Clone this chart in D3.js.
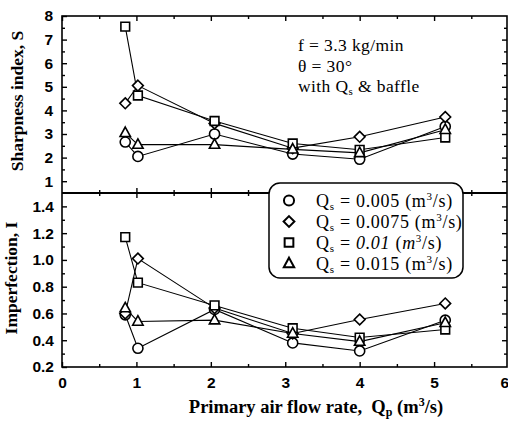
<!DOCTYPE html>
<html>
<head>
<meta charset="utf-8">
<script src="https://cdn.jsdelivr.net/npm/d3@7"></script>
<style>
  html, body { margin: 0; padding: 0; background: #fff; }
  svg { display: block; }
  .tick text { font-family: "Liberation Sans", Arial, sans-serif; font-weight: bold; font-size: 15.5px; fill: #000; }
  .serif { font-family: "Liberation Serif", "Times New Roman", serif; fill: #000; white-space: pre; }
</style>
</head>
<body>
<svg id="chart" width="508" height="422"></svg>
<script>
// Primary air flow rate (m^3/s) at which each case was measured
const flowRates = [0.85, 1.02, 2.05, 3.1, 4.0, 5.15];

// Secondary air flow rates, one series each
const seriesNames = ["0.005", "0.0075", "0.01", "0.015"];
const seriesSymbols = ["circle", "diamond", "square", "triangle"];

// Sharpness index, S
const sharpCircle   = [2.66, 2.05, 3.00, 2.15, 1.93, 3.32];
const sharpDiamond  = [4.30, 5.05, 3.45, 2.40, 2.88, 3.72];
const sharpSquare   = [7.55, 4.63, 3.55, 2.60, 2.33, 2.85];
const sharpTriangle = [3.05, 2.55, 2.55, 2.35, 2.20, 3.18];

// Imperfection, I
const impCircle   = [0.59, 0.34, 0.63, 0.38, 0.32, 0.55];
const impDiamond  = [0.60, 1.01, 0.64, 0.45, 0.555, 0.675];
const impSquare   = [1.17, 0.83, 0.66, 0.49, 0.42, 0.48];
const impTriangle = [0.64, 0.54, 0.55, 0.45, 0.39, 0.53];

// Axis ticks
const xTicks = [0, 1, 2, 3, 4, 5, 6];
const xMinor = [0.5, 1.5, 2.5, 3.5, 4.5, 5.5];
const sTicks = [1, 2, 3, 4, 5, 6, 7, 8];
const sMinor = [1.5, 2.5, 3.5, 4.5, 5.5, 6.5, 7.5];
const iTicks = [0.2, 0.4, 0.6, 0.8, 1.0, 1.2, 1.4];
const iMinor = [0.3, 0.5, 0.7, 0.9, 1.1, 1.3];

const sharpSeries = [sharpCircle, sharpDiamond, sharpSquare, sharpTriangle];
const impSeries = [impCircle, impDiamond, impSquare, impTriangle];

const svg = d3.select("#chart");

const frameL = 62, frameR = 507, frameT = 16, frameM = 193, frameB = 367;

const x = d3.scaleLinear().domain([0, 6]).range([frameL, 508.5]);
const yS = d3.scaleLinear().domain([0.5, 8]).range([frameM, frameT]);
const yI = d3.scaleLinear().domain([0.2, 1.5]).range([frameB, frameM]);

const plot = svg.append("g");

// Frame
plot.append("rect")
  .attr("x", frameL).attr("y", frameT)
  .attr("width", frameR - frameL).attr("height", frameB - frameT)
  .attr("fill", "none").attr("stroke", "#000").attr("stroke-width", 1.6);
plot.append("line")
  .attr("x1", frameL).attr("x2", frameR).attr("y1", frameM).attr("y2", frameM)
  .attr("stroke", "#000").attr("stroke-width", 2);

function styleAxis(g) {
  g.select(".domain").remove();
  g.selectAll(".tick line").attr("stroke", "#000").attr("stroke-width", 1.4);
}

// Bottom x axis with labels; the last label sits flush with the right edge
plot.append("g").attr("transform", `translate(0,${frameB})`)
  .call(d3.axisBottom(x).tickValues(xTicks).tickFormat(d3.format("d")).tickSize(-5).tickPadding(10))
  .call(styleAxis)
  .call(g => g.selectAll(".tick text").filter(d => d === 6)
    .attr("text-anchor", "end").attr("x", 0));
plot.append("g").attr("transform", `translate(0,${frameB})`)
  .call(d3.axisBottom(x).tickValues(xMinor).tickFormat("").tickSize(-3))
  .call(styleAxis);

// Top frame ticks
plot.append("g").attr("transform", `translate(0,${frameT})`)
  .call(d3.axisTop(x).tickValues(xTicks).tickFormat("").tickSize(-5))
  .call(styleAxis);
plot.append("g").attr("transform", `translate(0,${frameT})`)
  .call(d3.axisTop(x).tickValues(xMinor).tickFormat("").tickSize(-3))
  .call(styleAxis);

// Divider ticks, on both sides
[5, -5].forEach(s => {
  plot.append("g").attr("transform", `translate(0,${frameM})`)
    .call(d3.axisBottom(x).tickValues(xTicks.slice(1, 6)).tickFormat("").tickSize(s))
    .call(styleAxis);
  plot.append("g").attr("transform", `translate(0,${frameM})`)
    .call(d3.axisBottom(x).tickValues(xMinor).tickFormat("").tickSize(s * 0.6))
    .call(styleAxis);
});

// Left axes with labels
plot.append("g").attr("transform", `translate(${frameL},0)`)
  .call(d3.axisLeft(yS).tickValues(sTicks).tickFormat(d3.format("d")).tickSize(-5).tickPadding(9))
  .call(styleAxis);
plot.append("g").attr("transform", `translate(${frameL},0)`)
  .call(d3.axisLeft(yS).tickValues(sMinor).tickFormat("").tickSize(-3))
  .call(styleAxis);
plot.append("g").attr("transform", `translate(${frameL},0)`)
  .call(d3.axisLeft(yI).tickValues(iTicks).tickFormat(d3.format(".1f")).tickSize(-5).tickPadding(8))
  .call(styleAxis);
plot.append("g").attr("transform", `translate(${frameL},0)`)
  .call(d3.axisLeft(yI).tickValues(iMinor).tickFormat("").tickSize(-3))
  .call(styleAxis);

// Right frame ticks
plot.append("g").attr("transform", `translate(${frameR},0)`)
  .call(d3.axisRight(yS).tickValues(sTicks.slice(0, 7)).tickFormat("").tickSize(-5))
  .call(styleAxis);
plot.append("g").attr("transform", `translate(${frameR},0)`)
  .call(d3.axisRight(yS).tickValues(sMinor).tickFormat("").tickSize(-3))
  .call(styleAxis);
plot.append("g").attr("transform", `translate(${frameR},0)`)
  .call(d3.axisRight(yI).tickValues(iTicks.slice(1)).tickFormat("").tickSize(-5))
  .call(styleAxis);
plot.append("g").attr("transform", `translate(${frameR},0)`)
  .call(d3.axisRight(yI).tickValues(iMinor).tickFormat("").tickSize(-3))
  .call(styleAxis);

// Marker shapes
function symbolPath(name) {
  if (name === "diamond") return "M0,-5.4L5.4,0L0,5.4L-5.4,0Z";
  if (name === "triangle") return "M0,-5.8L5.2,3.7L-5.2,3.7Z";
  if (name === "square") return d3.symbol().type(d3.symbolSquare).size(76)();
  return d3.symbol().type(d3.symbolCircle).size(80)();
}

const line = y => d3.line().x((d, i) => x(flowRates[i])).y(d => y(d));

function drawPanel(seriesList, y) {
  const g = plot.append("g");
  seriesList.forEach(vals => {
    g.append("path").attr("d", line(y)(vals))
      .attr("fill", "none").attr("stroke", "#000").attr("stroke-width", 1.1);
  });
  seriesList.forEach((vals, k) => {
    g.selectAll(null).data(vals).enter().append("path")
      .attr("d", symbolPath(seriesSymbols[k]))
      .attr("transform", (d, i) => `translate(${x(flowRates[i])},${y(d)})`)
      .attr("fill", "#fff").attr("stroke", "#000").attr("stroke-width", 1.6);
  });
}
drawPanel(sharpSeries, yS);
drawPanel(impSeries, yI);

// Axis titles
svg.append("text").attr("class", "serif")
  .attr("transform", "translate(23,101) rotate(-90)")
  .attr("text-anchor", "middle").attr("font-weight", "bold").attr("font-size", 17.5)
  .text("Sharpness index, S");
svg.append("text").attr("class", "serif")
  .attr("transform", "translate(17,278) rotate(-90)")
  .attr("text-anchor", "middle").attr("font-weight", "bold").attr("font-size", 17.5)
  .text("Imperfection, I");

const xt = svg.append("text").attr("class", "serif")
  .attr("x", 316).attr("y", 413).attr("text-anchor", "middle")
  .attr("font-weight", "bold").attr("font-size", 18.5);
xt.append("tspan").text("Primary air flow rate,  Q");
xt.append("tspan").attr("font-size", 12).attr("dy", 3).text("p");
xt.append("tspan").attr("dy", -3).text(" (m");
xt.append("tspan").attr("font-size", 12).attr("dy", -7).text("3");
xt.append("tspan").attr("dy", 7).text("/s)");

// Operating conditions note
const note = svg.append("g").attr("font-size", 17.5).attr("letter-spacing", 0.4);
note.append("text").attr("class", "serif").attr("x", 298).attr("y", 51).text("f = 3.3 kg/min");
note.append("text").attr("class", "serif").attr("x", 298).attr("y", 72).text("θ = 30°");
const w = note.append("text").attr("class", "serif").attr("x", 298).attr("y", 92);
w.append("tspan").text("with Q");
w.append("tspan").attr("font-size", 11).attr("dy", 3).text("s");
w.append("tspan").attr("dy", -3).text(" & baffle");

// Legend
const legend = svg.append("g");
legend.append("rect")
  .attr("x", 269).attr("y", 183).attr("width", 194).attr("height", 95)
  .attr("rx", 11).attr("ry", 11)
  .attr("fill", "#fff").attr("stroke", "#000").attr("stroke-width", 1.5);
seriesNames.forEach((name, k) => {
  const cy = 200.5 + k * 21;
  legend.append("path").attr("d", symbolPath(seriesSymbols[k]))
    .attr("transform", `translate(289,${cy})`)
    .attr("fill", "#fff").attr("stroke", "#000").attr("stroke-width", 2);
  const t = legend.append("text").attr("class", "serif")
    .attr("x", 316).attr("y", cy + 6).attr("font-size", 18).attr("letter-spacing", 0.7);
  const italic = k === 2 ? "italic" : "normal";
  t.append("tspan").text("Q");
  t.append("tspan").attr("font-size", 11).attr("dy", 3).text("s");
  t.append("tspan").attr("dy", -3).text(" = ");
  t.append("tspan").attr("font-style", italic).text(name + " ");
  t.append("tspan").text("(");
  t.append("tspan").attr("font-style", italic).text("m");
  t.append("tspan").attr("font-size", 11).attr("dy", -7).text("3");
  t.append("tspan").attr("dy", 7).text("/s)");
});
</script>
</body>
</html>
